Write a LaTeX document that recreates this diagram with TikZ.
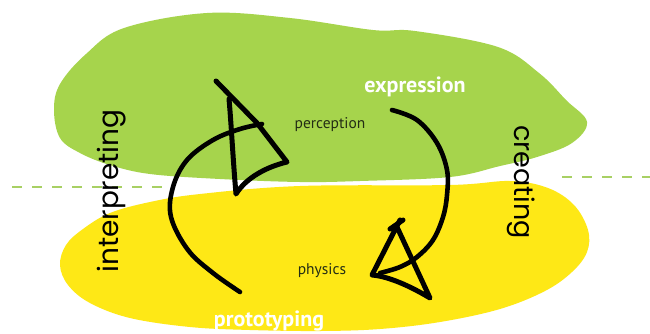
\documentclass[tikz,border=0pt]{standalone}
\usepackage{fontspec}
\setmainfont{PT Sans}
\newfontfamily\handfont{Poppins}
\definecolor{blobgreen}{RGB}{166,212,76}
\definecolor{blobyellow}{RGB}{254,232,22}
\definecolor{dashgreen}{RGB}{168,208,100}
\definecolor{darktext}{RGB}{35,45,20}
\tikzset{
  blob/.style={draw=none},
  sepline/.style={dashgreen, line width=2.6pt, dash pattern=on 10pt off 10pt},
  bigword/.style={text=white, font=\bfseries\fontsize{22}{22}\selectfont, inner sep=0pt},
  smallword/.style={text=darktext, font=\fontsize{15.5}{15.5}\selectfont, inner sep=0pt},
  handword/.style={text=black, font=\handfont\fontsize{28}{28}\selectfont, inner sep=0pt},
  arcline/.style={line width=4.6pt, line cap=round},
  headline/.style={line width=5pt, line join=round, line cap=round},
}
\begin{document}
\begin{tikzpicture}[x=1pt,y=-1pt]
\useasboundingbox (0,0) rectangle (650,333);
\fill[white] (0,0) rectangle (650,333);
% green blob
\fill[blobgreen] plot[smooth cycle, tension=0.6] coordinates {
 (54,110) (60,84) (86,54) (124,28) (207,13) (290,18) (373,30) (415,31)
 (498,47) (539,73) (566,100) (587,122) (572,143) (537,157) (500,166)
 (450,177) (360,181) (300,182) (220,179) (150,174) (110,165) (80,153) (60,138)};
% yellow blob
\fill[blobyellow] plot[smooth cycle, tension=0.6] coordinates {
 (60,265) (66,245) (83,229) (110,213) (150,202) (200,194) (300,186) (450,185)
 (510,181) (548,188) (574,205) (588,230) (587,252) (572,272) (545,291)
 (500,309) (440,322) (380,329) (320,331) (250,330) (190,327) (130,318) (90,303) (68,285)};
% dashed separators
\coordinate (dlA) at (12,187); \coordinate (dlB) at (162,187);
\coordinate (drA) at (562,177); \coordinate (drB) at (652,177);
\draw[sepline] (dlA) -- (dlB);
\draw[sepline] (drA) -- (drB);
% labels
\node[bigword] (expr) at (415,87) {expression};
\node[bigword] (proto) at (269,321) {prototyping};
\node[smallword] (perc) at (330,125) {perception};
\node[smallword] (phys) at (322,271) {physics};
\node[handword, rotate=90] (interp) at (112,191) {interpreting};
\node[handword, font=\handfont\fontsize{27}{27}\selectfont, rotate=-90] (creat) at (521,182) {creating};
% left arrow
\coordinate (la0) at (240,292);
\coordinate (laEnd) at (262,124);
\draw[arcline] plot[smooth, tension=0.6] coordinates {(la0) (213,273) (188,250) (171,217) (173,187) (187,160) (213,140) (240,129) (laEnd)};
\coordinate (lhTail) at (216,81);
\coordinate (lhTop) at (229,99);
\coordinate (lhRight) at (287,162);
\coordinate (lhBottom) at (236,194);
\draw[headline] (lhTail) -- (257,123) -- (lhRight)
  .. controls (266,167) and (246,178) .. (lhBottom)
  .. controls (233,160) and (231,120) .. (lhTop);
% right arrow
\coordinate (ra0) at (392,110);
\coordinate (raEnd) at (380,273);
\draw[arcline] plot[smooth, tension=0.6] coordinates {(ra0) (417,120) (437,143) (447,170) (447,195) (443,217) (433,240) (417,257) (400,267) (raEnd)};
\coordinate (rhLeft) at (372,275);
\coordinate (rhTop) at (400,220);
\coordinate (rhBR) at (430,298);
\coordinate (rhTickA) at (390,229);
\coordinate (rhTickB) at (403,220);
\draw[headline] (rhTop) -- (rhLeft)
  .. controls (385,276) and (405,283) .. (rhBR) -- (397,227);
\draw[headline] (rhTickA) -- (rhTickB);
\end{tikzpicture}
\end{document}
